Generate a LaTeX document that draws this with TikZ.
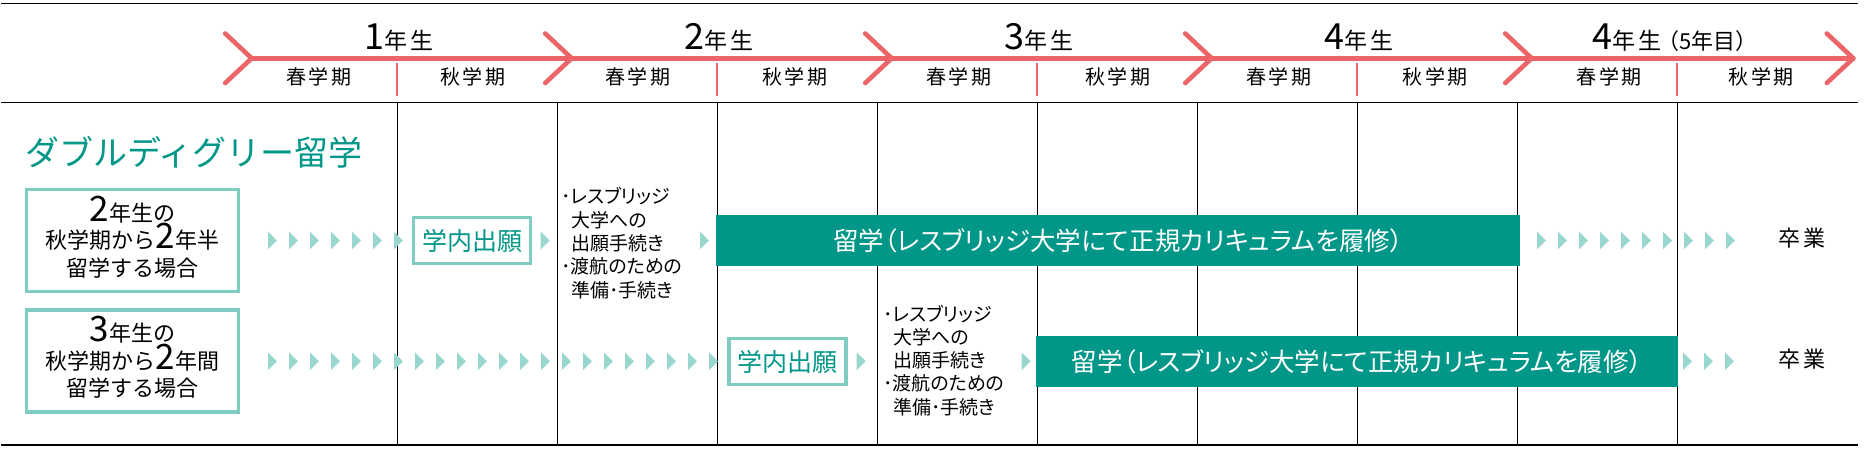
\documentclass[tikz,border=0pt]{standalone}
\usepackage{fontspec}
\setmainfont{Noto Sans CJK JP}
\newfontfamily\jp{Noto Sans CJK JP}
\newfontfamily\jpls[LetterSpace=12]{Noto Sans CJK JP}
\newfontfamily\jpp[RawFeature=+palt]{Noto Sans CJK JP}
\definecolor{arrowred}{RGB}{235,100,104}
\definecolor{darkteal}{RGB}{0,150,136}
\definecolor{lightteal}{RGB}{128,204,194}
\definecolor{trifill}{RGB}{153,214,206}
\newcommand{\fsz}[1]{\fontsize{#1}{#1}\selectfont}
\newcommand{\bigdigit}[1]{\smash{\fsz{35}#1}}
\begin{document}
\begin{tikzpicture}[x=1pt,y=-1pt,
  every node/.style={inner sep=0pt, outer sep=0pt},
  gridrule/.style={line width=1.3pt, black},
  timeline/.style={line width=4.6pt, draw=arrowred, line cap=round, line join=round},
  semtick/.style={line width=2pt, draw=arrowred},
  yearlab/.style={anchor=base, font=\jpls\fsz{23}},
  semlab/.style={anchor=base, font=\jpls\fsz{20}},
  casebox/.style={draw=lightteal, line width=3.4pt, minimum width=211.7pt, minimum height=101.7pt,
    align=center, font=\jp\fontsize{22}{27.5}\selectfont},
  applybox/.style={draw=lightteal, line width=3.4pt, minimum width=117pt, minimum height=46pt, text=darkteal, font=\jp\fsz{25}},
  studybar/.style={fill=darkteal, text=white, font=\jpp\fsz{25.5}, minimum height=50.7pt},
  bulline/.style={anchor=base west, font=\jpp\fsz{19}},
  gradlab/.style={anchor=base, font=\jpls\fsz{22}},
  headline/.style={anchor=base west, font=\jp\fsz{34}, text=darkteal},
  flowmark/.pic={\fill[trifill] (0,-8.8) -- (9,0) -- (0,8.8) -- cycle;}
]
\useasboundingbox (0,0) rectangle (1865,454);

% grid
\draw[gridrule] (1,3.3) -- (1858,3.3);
\draw[gridrule] (1,102.3) -- (1858,102.3);
\draw[gridrule] (1,445) -- (1858,445);
\foreach \i in {0,...,8} \draw[gridrule] ({397.3+160*\i},102.3) -- ({397.3+160*\i},445);

% timeline
\draw[timeline] (251.7,58.3) -- (1853.3,58.3);
\foreach \a in {251.7,571.7,891.7,1211.7,1531.7,1853.3}
  \draw[timeline] (\a-26.5,33.5) -- (\a,58.3) -- (\a-26.5,83);
\foreach \t in {397.3,717.3,1037.3,1357.3,1677.3}
  \draw[semtick] (\t,63) -- (\t,96);

% year labels
\node[yearlab] (yr1) at (399,50) {{\fsz{36}1}年生};
\node[yearlab] (yr2) at (719,50) {{\fsz{36}2}年生};
\node[yearlab] (yr3) at (1039,50) {{\fsz{36}3}年生};
\node[yearlab] (yr4) at (1359,50) {{\fsz{36}4}年生};
\node[yearlab] (yr5) at (1675,50) {{\fsz{36}4}年生\kern-4pt{\jp\fsz{22}（5年目）}};

% semester labels
\node[semlab] (s1) at (319,85) {春学期};
\node[semlab] (a1) at (473,85) {秋学期};
\node[semlab] (s2) at (638,85) {春学期};
\node[semlab] (a2) at (795,85) {秋学期};
\node[semlab] (s3) at (959,85) {春学期};
\node[semlab] (a3) at (1118,85) {秋学期};
\node[semlab] (s4) at (1279,85) {春学期};
\node[semlab] (a4) at (1435,85) {秋学期};
\node[semlab] (s5) at (1609,85) {春学期};
\node[semlab] (a5) at (1761,85) {秋学期};

% title
\node[headline] (ttl) at (25,165.5) {ダブルディグリー留学};

% case boxes
\node[casebox] (case1) at (132.5,240.5) {\bigdigit{2}年生の\\秋学期から\bigdigit{2}年半\\留学する場合};
\node[casebox] (case2) at (132.5,361) {\bigdigit{3}年生の\\秋学期から\bigdigit{2}年間\\留学する場合};

% apply boxes
\node[applybox] (app1) at (472,240.5) {学内出願};
\node[applybox] (app2) at (787.5,361.5) {学内出願};

% bullet notes row 1
\node[bulline] (n1a) at (561,204) {･レスブリッジ};
\node[bulline] (n1b) at (571,227.3) {大学への};
\node[bulline] (n1c) at (571,250.6) {出願手続き};
\node[bulline] (n1d) at (561,273.9) {･渡航のための};
\node[bulline] (n1e) at (571,297.2) {準備･手続き};
% bullet notes row 2
\node[bulline] (n2a) at (883,321) {･レスブリッジ};
\node[bulline] (n2b) at (893,344.3) {大学への};
\node[bulline] (n2c) at (893,367.6) {出願手続き};
\node[bulline] (n2d) at (883,390.9) {･渡航のための};
\node[bulline] (n2e) at (893,414.2) {準備･手続き};

% study bars
\node[studybar, minimum width=804pt] (bar1) at (1118,240.4) {留学（レスブリッジ大学にて正規カリキュラムを履修）};
\node[studybar, minimum width=641.7pt] (bar2) at (1356.8,361.3) {留学（レスブリッジ大学にて正規カリキュラムを履修）};

% graduation
\node[gradlab] (grad1) at (1802,247) {卒業};
\node[gradlab] (grad2) at (1802,367) {卒業};

% flow markers row 1
\foreach \k in {0,...,6} \pic at ({268+21*\k},240.5) {flowmark};
\pic at (540.7,240.5) {flowmark};
\pic at (700,240.5) {flowmark};
\foreach \k in {0,...,9} \pic at ({1537+21*\k},240.5) {flowmark};
% flow markers row 2
\foreach \k in {0,...,21} \pic at ({268+21*\k},361.3) {flowmark};
\pic at (856.7,361.3) {flowmark};
\pic at (1021.7,361.3) {flowmark};
\foreach \k in {0,...,2} \pic at ({1683+21*\k},361.3) {flowmark};
\end{tikzpicture}
\end{document}
